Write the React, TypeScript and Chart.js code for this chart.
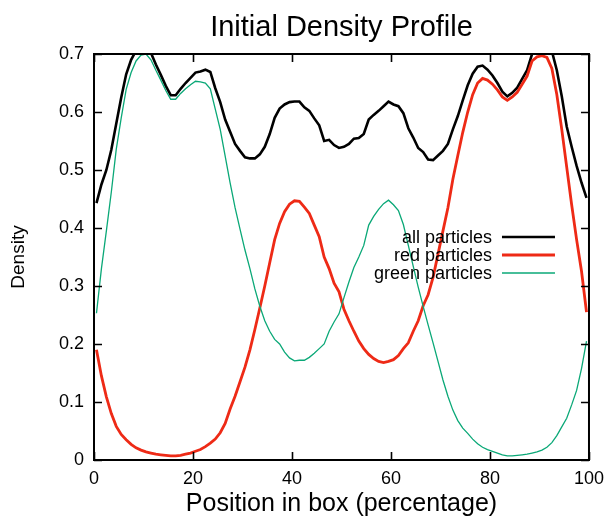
import React, { useEffect, useRef } from "react";
import { Chart, registerables } from "chart.js";

Chart.register(...registerables);

// Bin centres (position in box, percent)
const positions = [
  0.5, 1.5, 2.5, 3.5, 4.5, 5.5, 6.5, 7.5, 8.5, 9.5,
  10.5, 11.5, 12.5, 13.5, 14.5, 15.5, 16.5, 17.5, 18.5, 19.5,
  20.5, 21.5, 22.5, 23.5, 24.5, 25.5, 26.5, 27.5, 28.5, 29.5,
  30.5, 31.5, 32.5, 33.5, 34.5, 35.5, 36.5, 37.5, 38.5, 39.5,
  40.5, 41.5, 42.5, 43.5, 44.5, 45.5, 46.5, 47.5, 48.5, 49.5,
  50.5, 51.5, 52.5, 53.5, 54.5, 55.5, 56.5, 57.5, 58.5, 59.5,
  60.5, 61.5, 62.5, 63.5, 64.5, 65.5, 66.5, 67.5, 68.5, 69.5,
  70.5, 71.5, 72.5, 73.5, 74.5, 75.5, 76.5, 77.5, 78.5, 79.5,
  80.5, 81.5, 82.5, 83.5, 84.5, 85.5, 86.5, 87.5, 88.5, 89.5,
  90.5, 91.5, 92.5, 93.5, 94.5, 95.5, 96.5, 97.5, 98.5, 99.5,
];

const allParticles = [
  0.443, 0.475, 0.500, 0.535, 0.580, 0.625, 0.665, 0.690, 0.706, 0.714,
  0.714, 0.702, 0.682, 0.664, 0.645, 0.629, 0.629, 0.640, 0.650, 0.659,
  0.668, 0.670, 0.673, 0.669, 0.641, 0.617, 0.587, 0.566, 0.545, 0.533,
  0.522, 0.520, 0.520, 0.527, 0.540, 0.562, 0.590, 0.606, 0.613, 0.617,
  0.618, 0.618, 0.608, 0.602, 0.589, 0.577, 0.550, 0.552, 0.543, 0.538,
  0.540, 0.545, 0.554, 0.555, 0.562, 0.587, 0.595, 0.602, 0.610, 0.618,
  0.613, 0.610, 0.598, 0.572, 0.556, 0.538, 0.531, 0.518, 0.517, 0.525,
  0.533, 0.545, 0.570, 0.593, 0.620, 0.646, 0.666, 0.678, 0.680, 0.673,
  0.663, 0.650, 0.635, 0.627, 0.633, 0.642, 0.657, 0.672, 0.700, 0.709,
  0.714, 0.716, 0.705, 0.672, 0.627, 0.575, 0.540, 0.507, 0.478, 0.452,
];

const redParticles = [
  0.190, 0.145, 0.109, 0.080, 0.058, 0.044, 0.035, 0.027, 0.021, 0.017,
  0.014, 0.012, 0.010, 0.009, 0.008, 0.007, 0.007, 0.008, 0.010, 0.012,
  0.015, 0.018, 0.023, 0.029, 0.036, 0.047, 0.063, 0.088, 0.110, 0.135,
  0.160, 0.190, 0.225, 0.262, 0.300, 0.340, 0.380, 0.408, 0.428, 0.441,
  0.447, 0.446, 0.436, 0.425, 0.405, 0.385, 0.350, 0.330, 0.305, 0.290,
  0.260, 0.240, 0.222, 0.205, 0.192, 0.182, 0.175, 0.170, 0.168, 0.170,
  0.173, 0.180, 0.192, 0.202, 0.222, 0.240, 0.266, 0.285, 0.315, 0.355,
  0.395, 0.435, 0.484, 0.525, 0.565, 0.600, 0.630, 0.650, 0.658, 0.655,
  0.648, 0.638, 0.626, 0.620, 0.626, 0.634, 0.648, 0.662, 0.688, 0.695,
  0.697, 0.694, 0.675, 0.630, 0.570, 0.505, 0.440, 0.380, 0.325, 0.255,
];

const greenParticles = [
  0.253, 0.330, 0.395, 0.462, 0.536, 0.590, 0.639, 0.668, 0.688, 0.698,
  0.700, 0.690, 0.672, 0.655, 0.637, 0.622, 0.622, 0.632, 0.640, 0.647,
  0.653, 0.652, 0.650, 0.640, 0.605, 0.570, 0.524, 0.478, 0.435, 0.398,
  0.362, 0.330, 0.295, 0.265, 0.240, 0.222, 0.208, 0.200, 0.186, 0.176,
  0.171, 0.172, 0.172, 0.177, 0.184, 0.192, 0.200, 0.222, 0.238, 0.252,
  0.280, 0.307, 0.332, 0.350, 0.370, 0.405, 0.420, 0.432, 0.442, 0.448,
  0.440, 0.430, 0.406, 0.370, 0.334, 0.298, 0.265, 0.233, 0.202, 0.170,
  0.138, 0.110, 0.086, 0.068, 0.055, 0.046, 0.036, 0.028, 0.022, 0.018,
  0.015, 0.012, 0.009, 0.007, 0.007, 0.008, 0.009, 0.010, 0.012, 0.014,
  0.017, 0.022, 0.030, 0.042, 0.057, 0.072, 0.095, 0.120, 0.158, 0.205,
];

const xTickValues = [0, 20, 40, 60, 80, 100];
const yTickValues = [0, 0.1, 0.2, 0.3, 0.4, 0.5, 0.6, 0.7];
const seriesLabels = ["all particles", "red particles", "green particles"];
const chartTitle = "Initial Density Profile";
const xTitle = "Position in box (percentage)";
const yTitle = "Density";

const FONT = "'Liberation Sans', Arial, Helvetica, sans-serif";
const BLACK = "#000000";
const RED = "#ee2a16";
const GREEN = "#0aa877";

const framePlugin = {
  id: "gnuFrame",
  afterDatasetsDraw(chart: any) {
    const { ctx, chartArea: a, scales } = chart;
    const tl = 8;
    ctx.save();
    ctx.strokeStyle = "#000";
    ctx.lineWidth = 1.6;
    ctx.beginPath();
    for (const v of xTickValues) {
      const px = Math.round(scales.x.getPixelForValue(v)) + 0.5;
      ctx.moveTo(px, a.bottom);
      ctx.lineTo(px, a.bottom - tl);
      ctx.moveTo(px, a.top);
      ctx.lineTo(px, a.top + tl);
    }
    for (const v of yTickValues) {
      const py = Math.round(scales.y.getPixelForValue(v)) + 0.5;
      ctx.moveTo(a.left, py);
      ctx.lineTo(a.left + tl, py);
      ctx.moveTo(a.right, py);
      ctx.lineTo(a.right - tl, py);
    }
    ctx.stroke();
    ctx.lineWidth = 2;
    ctx.strokeRect(a.left, a.top, a.right - a.left, a.bottom - a.top);

    // key (legend) inside the plot, text right-aligned, sample line at right
    const textRight = a.right - 97;
    const lineL = a.right - 87;
    const lineR = a.right - 34;
    const y0 = a.top + 183;
    const dy = 18;
    ctx.font = `18px ${FONT}`;
    ctx.textAlign = "right";
    ctx.textBaseline = "middle";
    chart.data.datasets.forEach((ds: any, i: number) => {
      const y = y0 + i * dy;
      ctx.fillStyle = "#000";
      ctx.fillText(ds.label, textRight, y + 1);
      ctx.strokeStyle = ds.borderColor;
      ctx.lineWidth = ds.borderWidth;
      ctx.beginPath();
      ctx.moveTo(lineL, y);
      ctx.lineTo(lineR, y);
      ctx.stroke();
    });
    ctx.restore();
  },
};

export default function App() {
  const ref = useRef<HTMLCanvasElement | null>(null);

  useEffect(() => {
    if (!ref.current) return;
    const mk = (vals: number[]) => positions.map((x, i) => ({ x, y: vals[i] }));
    const chart = new Chart(ref.current, {
      type: "line",
      data: {
        datasets: [
          {
            label: seriesLabels[0],
            data: mk(allParticles),
            borderColor: BLACK,
            borderWidth: 2.6,
            pointRadius: 0,
            tension: 0,
            clip: 0,
            order: 3,
          },
          {
            label: seriesLabels[1],
            data: mk(redParticles),
            borderColor: RED,
            borderWidth: 2.8,
            pointRadius: 0,
            tension: 0,
            clip: 0,
            order: 2,
          },
          {
            label: seriesLabels[2],
            data: mk(greenParticles),
            borderColor: GREEN,
            borderWidth: 1.3,
            pointRadius: 0,
            tension: 0,
            clip: 0,
            order: 1,
          },
        ],
      },
      options: {
        animation: false,
        responsive: true,
        maintainAspectRatio: false,
        layout: { padding: { left: 0, right: 19, top: 0, bottom: 0 } },
        plugins: {
          legend: { display: false },
          tooltip: { enabled: false },
          title: {
            display: true,
            text: chartTitle,
            fullSize: false,
            color: "#000",
            font: { family: FONT, size: 29, weight: "normal" },
            padding: { top: 11, bottom: 8.2 },
          },
        },
        scales: {
          x: {
            type: "linear",
            min: 0,
            max: 100,
            afterBuildTicks: (s: any) => {
              s.ticks = xTickValues.map((v) => ({ value: v }));
            },
            afterFit: (s: any) => {
              s.height = 59;
            },
            ticks: {
              color: "#000",
              font: { family: FONT, size: 18 },
              padding: 8,
              maxRotation: 0,
              callback: (v: any) => String(v),
            },
            grid: { display: false, drawTicks: false },
            border: { display: false },
            title: {
              display: true,
              text: xTitle,
              color: "#000",
              font: { family: FONT, size: 25 },
              padding: { top: 1, bottom: 0 },
            },
          },
          y: {
            type: "linear",
            min: 0,
            max: 0.7,
            afterBuildTicks: (s: any) => {
              s.ticks = yTickValues.map((v) => ({ value: v }));
            },
            afterFit: (s: any) => {
              s.width = 94;
            },
            ticks: {
              color: "#000",
              font: { family: FONT, size: 18 },
              padding: 10,
              callback: (v: any) => String(v),
            },
            grid: { display: false, drawTicks: false },
            border: { display: false },
            title: {
              display: true,
              text: yTitle,
              color: "#000",
              font: { family: FONT, size: 19 },
              padding: { top: 7, bottom: 0 },
            },
          },
        },
      },
      plugins: [framePlugin],
    } as any);
    return () => chart.destroy();
  }, []);

  return (
    <div style={{ position: "fixed", left: 0, top: 0, width: 612, height: 519, background: "#fff" }}>
      <canvas ref={ref} />
    </div>
  );
}
